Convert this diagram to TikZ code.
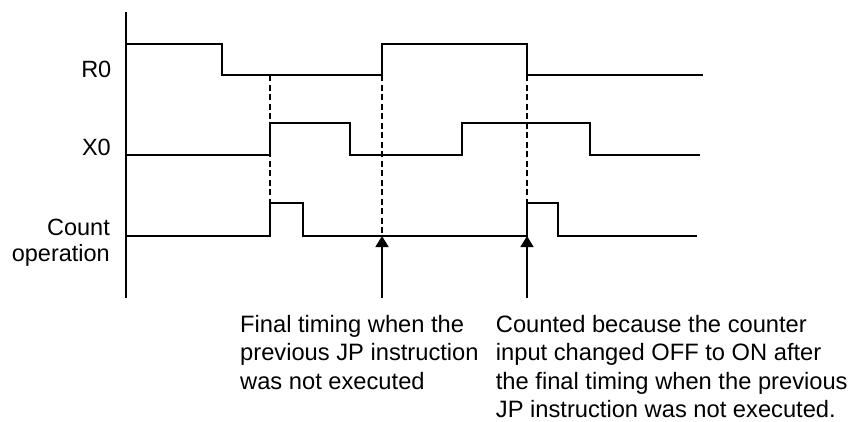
\documentclass[tikz,border=0pt]{standalone}
\usepackage{fontspec}
\setmainfont{Liberation Sans}
\usetikzlibrary{arrows.meta}

\begin{document}
\begin{tikzpicture}[
    x=1pt, y=-1pt,
    signal/.style={line width=1.8pt, line join=miter},
    guide/.style={line width=1.5pt, dash pattern=on 6pt off 3.5pt},
    pointer/.style={line width=1.6pt, -{Triangle[length=11pt, width=13pt]}},
    label/.style={font=\fontsize{23.5}{26}\selectfont, inner sep=0pt},
    note/.style={label, font=\fontsize{23.7}{28.5}\selectfont, align=left, anchor=base west}
]
    \useasboundingbox (0,0) rectangle (855,421);

    % Time axis (vertical line on the left)
    \draw[line width=1.6pt] (126,12) -- (126,298);

    % Signal names
    \node[label, anchor=base east] (r0)  at (111.5,77)  {R0};
    \node[label, anchor=base east] (x0)  at (111,155.5) {X0};
    \node[label, anchor=base east, align=right] (cnt) at (110,261.7) {Count\\operation};

    % R0 waveform
    \draw[signal] (126,44) -- (222,44) -- (222,75) -- (382,75) -- (382,44)
        -- (527,44) -- (527,75) -- (703,75);
    % X0 waveform
    \draw[signal] (126,155) -- (270,155) -- (270,123) -- (350,123) -- (350,155)
        -- (462,155) -- (462,123) -- (590,123) -- (590,155) -- (700,155);
    % Count operation pulses
    \draw[signal] (126,236) -- (270,236) -- (270,203) -- (303,203) -- (303,236)
        -- (527,236) -- (527,203) -- (558,203) -- (558,236) -- (697,236);

    % Timing guides
    \draw[guide] (270,75) -- (270,203);
    \draw[guide] (382,75) -- (382,236);
    \draw[guide] (527,75) -- (527,203);

    % Arrow end points on the count line
    \coordinate (hitA) at (382,236);
    \coordinate (hitB) at (527,236);
    \coordinate (footA) at (382,298);
    \coordinate (footB) at (527,298);
    \draw[pointer] (footA) -- (hitA);
    \draw[pointer] (footB) -- (hitB);

    % Notes (anchored at the baseline of their last line)
    \node[note] (noteA) at (240,389)
        {Final timing when the\\previous JP instruction\\was not executed};
    \node[note] (noteB) at (495.7,417.5)
        {Counted because the counter\\input changed OFF to ON after\\the final timing when the previous\\JP instruction was not executed.};
\end{tikzpicture}
\end{document}
